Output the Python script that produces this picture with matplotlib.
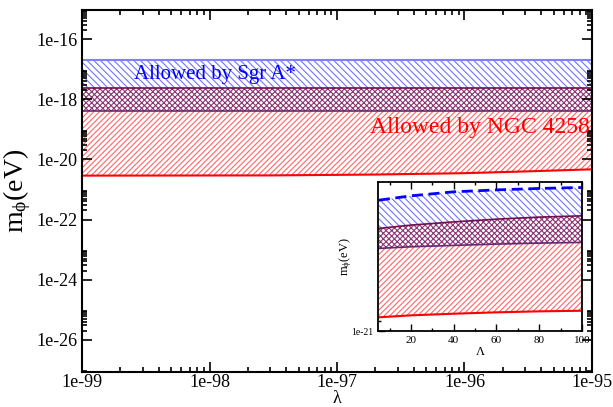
import matplotlib
matplotlib.use('Agg')
import matplotlib.pyplot as plt
import matplotlib.ticker as ticker
import numpy as np

plt.rcParams['font.family'] = ['Liberation Serif', 'DejaVu Serif']
plt.rcParams['mathtext.fontset'] = 'custom'
plt.rcParams['mathtext.rm'] = 'Liberation Serif'
plt.rcParams['mathtext.it'] = 'Liberation Serif:italic'
plt.rcParams['hatch.linewidth'] = 0.8

# main plot: lambda range and band edges (m_phi in eV)
lam = [1e-99, 3e-98, 2e-97, 1e-96, 3e-96, 1e-95]
sgr_top = [2.05e-17, 2.05e-17, 2.05e-17, 2.05e-17, 2.05e-17, 2.05e-17]
overlap_top = [2.35e-18, 2.35e-18, 2.35e-18, 2.35e-18, 2.35e-18, 2.35e-18]
overlap_bottom = [4.0e-19, 4.0e-19, 4.0e-19, 4.0e-19, 4.0e-19, 4.0e-19]
ngc_bottom = [2.9e-21, 2.95e-21, 3.15e-21, 3.5e-21, 4.0e-21, 4.7e-21]

# inset: Lambda dependence
Lam = [5, 20, 40, 60, 80, 100]
in_sgr_top = [7.3e-18, 9.8e-18, 1.29e-17, 1.47e-17, 1.62e-17, 1.73e-17]
in_overlap_top = [1.07e-18, 1.34e-18, 1.67e-18, 2.01e-18, 2.31e-18, 2.52e-18]
in_overlap_bottom = [2.75e-19, 3.07e-19, 3.37e-19, 3.68e-19, 3.94e-19, 4.14e-19]
in_ngc_bottom = [2.54e-21, 2.90e-21, 3.24e-21, 3.56e-21, 3.81e-21, 3.97e-21]

xticks = [1e-99, 1e-98, 1e-97, 1e-96, 1e-95]
yticks = [1e-26, 1e-24, 1e-22, 1e-20, 1e-18, 1e-16]

blue_h = (0.45, 0.45, 1.0)
red_h = (1.0, 0.4, 0.4)
cross_h = (0.55, 0.2, 0.45)
line_top = (0.45, 0.05, 0.3)
line_bot = (0.4, 0.15, 0.45)


def sci(v, pos):
    return '1e%d' % int(round(np.log10(v)))


def bands(ax, x, top, otop, obot, bot, dashed_top):
    ax.fill_between(x, otop, top, facecolor='none', edgecolor=blue_h, hatch='\\' * 5, linewidth=0)
    ax.fill_between(x, obot, otop, facecolor='none', edgecolor=cross_h, hatch='x' * 6, linewidth=0)
    ax.fill_between(x, bot, obot, facecolor='none', edgecolor=red_h, hatch='/' * 6, linewidth=0)
    if dashed_top:
        ax.plot(x, top, color='blue', lw=2, ls=(0, (4, 2)))
    else:
        ax.plot(x, top, color=(0.5, 0.5, 1.0), lw=1.5)
    ax.plot(x, otop, color=line_top, lw=1.2)
    ax.plot(x, obot, color=line_bot, lw=1.2)
    ax.plot(x, bot, color='red', lw=1.5)


fig = plt.figure(figsize=(6.13, 4.07), dpi=100)
ax = fig.add_axes([0.1338, 0.086, 0.8319, 0.8894])
bands(ax, lam, sgr_top, overlap_top, overlap_bottom, ngc_bottom, False)

ax.set_xscale('log')
ax.set_yscale('log')
ax.set_xlim(1e-99, 1e-95)
ax.set_ylim(10**-27.08, 10**-15.02)
ax.xaxis.set_major_locator(ticker.FixedLocator(xticks))
ax.xaxis.set_minor_locator(ticker.LogLocator(base=10, subs=np.arange(2, 10), numticks=50))
ax.yaxis.set_major_locator(ticker.FixedLocator(yticks))
ax.yaxis.set_minor_locator(ticker.LogLocator(base=100, subs=np.arange(2, 10), numticks=50))
ax.xaxis.set_major_formatter(ticker.FuncFormatter(sci))
ax.yaxis.set_major_formatter(ticker.FuncFormatter(sci))
ax.xaxis.set_minor_formatter(ticker.NullFormatter())
ax.yaxis.set_minor_formatter(ticker.NullFormatter())
ax.tick_params(which='both', direction='in', top=True, right=True, labelsize=13, width=1.2)
ax.tick_params(axis='x', pad=1.5)
ax.tick_params(which='major', length=7)
ax.tick_params(which='minor', length=3.5)
for s in ax.spines.values():
    s.set_linewidth(1.5)
ax.set_ylabel(r'm$_{\mathrm{\phi}}$(eV)', fontsize=20, labelpad=2)
# x label placed against the bottom edge, there is little room below the ticks
fig.text(0.55, 0.0, 'λ', fontsize=13, ha='center', va='bottom')

ax.text(2.57e-99, 10**-17.18, 'Allowed by Sgr A*', color='blue', fontsize=15, ha='left', va='center')
ax.text(9.6e-96, 10**-18.95, 'Allowed by NGC 4258', color='red', fontsize=17, ha='right', va='center')

# inset
ins = fig.add_axes([0.6166, 0.1867, 0.3328, 0.3661])
ins.set_facecolor('white')
bands(ins, Lam, in_sgr_top, in_overlap_top, in_overlap_bottom, in_ngc_bottom, True)
ins.set_yscale('log')
ins.set_xlim(4.6, 100)
ins.set_ylim(1e-21, 10**-16.6)
ins.xaxis.set_major_locator(ticker.FixedLocator([20, 40, 60, 80, 100]))
ins.xaxis.set_minor_locator(ticker.FixedLocator([10, 30, 50, 70, 90]))
ins.yaxis.set_major_locator(ticker.FixedLocator([1e-21]))
ins.yaxis.set_minor_locator(ticker.FixedLocator([2e-21]))
ins.yaxis.set_major_formatter(ticker.FuncFormatter(sci))
ins.yaxis.set_minor_formatter(ticker.NullFormatter())
ins.tick_params(which='both', direction='in', top=True, labelsize=8, width=1.0)
ins.tick_params(axis='y', labelsize=7)
ins.tick_params(which='major', length=5)
ins.tick_params(which='minor', length=2.5)
for s in ins.spines.values():
    s.set_linewidth(1.3)
ins.set_xlabel('Λ', fontsize=9, labelpad=1)
ins.set_ylabel(r'm$_{\mathrm{\phi}}$(eV)', fontsize=9, labelpad=-2)

fig.savefig('out.png', dpi=100)
